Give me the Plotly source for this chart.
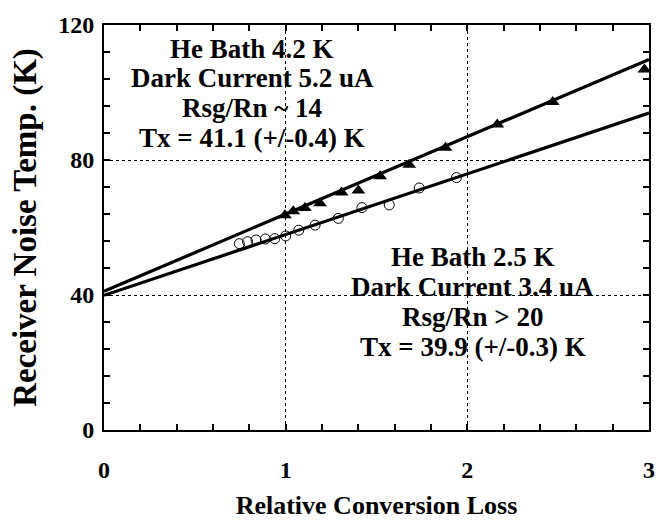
import plotly.graph_objects as go

# Measured receiver noise temperature vs relative conversion loss
loss_42k = [0.996, 1.042, 1.106, 1.189, 1.308, 1.40, 1.52, 1.68, 1.88, 2.165, 2.47, 2.975]
trx_42k = [63.6, 64.8, 65.8, 67.2, 70.4, 71.0, 75.2, 78.6, 83.6, 90.5, 97.2, 106.8]

loss_25k = [0.745, 0.79, 0.837, 0.888, 0.94, 1.0, 1.072, 1.162, 1.29, 1.42, 1.57, 1.735, 1.94]
trx_25k = [55.2, 55.8, 56.3, 56.6, 56.7, 57.5, 59.2, 60.7, 62.7, 65.9, 66.7, 71.7, 74.8]

# Linear fits: intercept = Tx, slope per unit relative loss
fit_42k = {"tx": 41.1, "slope": 22.9}
fit_25k = {"tx": 39.9, "slope": 18.0}
fit_x = [0, 3]

label_42k = ["He Bath 4.2 K", "Dark Current 5.2 uA", "Rsg/Rn ~ 14", "Tx = 41.1 (+/-0.4) K"]
label_25k = ["He Bath 2.5 K", "Dark Current 3.4 uA", "Rsg/Rn > 20", "Tx = 39.9 (+/-0.3) K"]

FONT = "Liberation Serif"

fig = go.Figure()

for fit in (fit_42k, fit_25k):
    fig.add_trace(go.Scatter(
        x=fit_x, y=[fit["tx"] + fit["slope"] * v for v in fit_x],
        mode="lines", line=dict(color="black", width=3.2),
        showlegend=False, hoverinfo="skip"))

fig.add_trace(go.Scatter(
    x=loss_42k, y=trx_42k, mode="markers",
    marker=dict(symbol="triangle-up", size=12, color="black",
                line=dict(color="black", width=0)),
    showlegend=False, cliponaxis=False))

fig.add_trace(go.Scatter(
    x=loss_25k, y=trx_25k, mode="markers",
    marker=dict(symbol="circle-open", size=10, color="black",
                line=dict(color="black", width=1)),
    showlegend=False, cliponaxis=False))

annotations = []
for i, txt in enumerate(label_42k):
    annotations.append(dict(x=0.815, y=113.0 - 8.8 * i, xref="x", yref="y",
                            text=txt, showarrow=False, xanchor="center", yanchor="middle",
                            font=dict(family=FONT, size=27, color="black", weight="bold")))
for i, txt in enumerate(label_25k):
    annotations.append(dict(x=2.03, y=51.3 - 8.9 * i, xref="x", yref="y",
                            text=txt, showarrow=False, xanchor="center", yanchor="middle",
                            font=dict(family=FONT, size=27, color="black", weight="bold")))

axis_common = dict(
    showline=True, linecolor="black", linewidth=2, mirror="ticks",
    ticks="inside", ticklen=6, tickwidth=1.5, tickcolor="black",
    showgrid=True, gridcolor="black", gridwidth=1, griddash="dot",
    zeroline=False,
    tickfont=dict(family=FONT, size=24, color="black", weight="bold"),
)

fig.update_layout(
    width=667, height=527,
    margin=dict(l=104, r=18, t=14, b=79),
    paper_bgcolor="white", plot_bgcolor="white",
    annotations=annotations,
    xaxis=dict(range=[0, 3], tick0=0, dtick=1,
               minor=dict(dtick=0.2, ticks="inside", ticklen=6, tickcolor="black", showgrid=False),
               ticklabelstandoff=17,
               title=dict(text="Relative Conversion Loss", standoff=14,
                          font=dict(family=FONT, size=26, color="black", weight="bold")),
               **axis_common),
    yaxis=dict(range=[0, 120], tick0=0, dtick=40,
               minor=dict(dtick=8, ticks="inside", ticklen=6, tickcolor="black", showgrid=False),
               ticklabelstandoff=3,
               title=dict(text="Receiver Noise Temp. (K)", standoff=12,
                          font=dict(family=FONT, size=33, color="black", weight="bold")),
               **axis_common),
)

fig.write_html("out.html")
